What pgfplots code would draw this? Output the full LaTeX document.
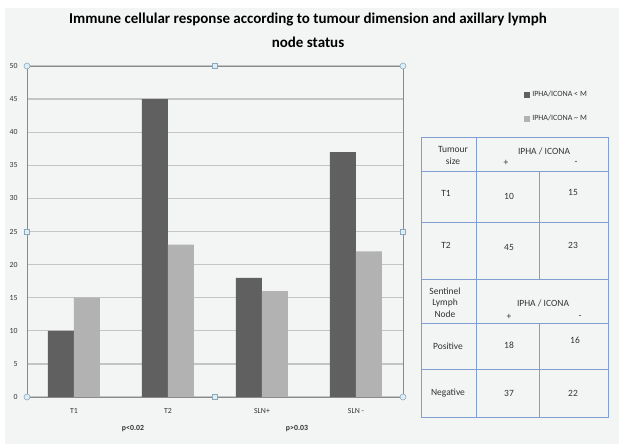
\documentclass[border=0pt]{standalone}
\usepackage{fontspec}
\setmainfont{Carlito}
\usepackage{pgfplots}
\pgfplotsset{compat=1.18}
\definecolor{bg}{HTML}{F3F5F5}
\definecolor{darkbar}{HTML}{606060}
\definecolor{lightbar}{HTML}{B2B2B2}
\definecolor{gridc}{HTML}{C4C4C4}
\definecolor{axc}{HTML}{8A8A8A}
\definecolor{tabc}{HTML}{7F9FD2}
\definecolor{txt}{HTML}{333333}
\definecolor{hfill}{HTML}{DCEFF8}
\definecolor{hdraw}{HTML}{8FA8B8}
\tikzset{hnd/.style={draw=hdraw, fill=hfill, inner sep=0pt, line width=0.6pt}}
\begin{document}
\begin{tikzpicture}[x=1pt,y=1pt]
\fill[white] (0,0) rectangle (619,444);
\fill[bg] (5,0) rectangle (619,436);
\node[font=\bfseries\fontsize{15}{18}\selectfont] at (308,424) {Immune cellular response according to tumour dimension and axillary lymph};
\node[font=\bfseries\fontsize{15}{18}\selectfont] at (308,402) {node status};
\begin{axis}[
  at={(27pt,47pt)}, anchor=south west,
  scale only axis, width=376pt, height=331pt,
  xmin=-0.5, xmax=3.5, ymin=0, ymax=50,
  ybar=0pt, bar width=26pt,
  xtick={0,1,2,3}, xticklabels={T1,T2,SLN+,SLN -},
  ytick={0,5,...,50},
  major tick length=0pt,
  ymajorgrids, grid style={gridc, line width=1.3pt},
  axis line style={axc, line width=0.9pt},
  tick label style={font=\fontsize{7.8}{9}\selectfont, text=txt},
  /pgf/number format/assume math mode=true,
  xticklabel style={yshift=-8pt},
  yticklabel style={xshift=-6pt},
  clip=false,
  legend style={at={(1.322,0.93)}, anchor=north west, draw=none, fill=none,
    font=\fontsize{8}{10}\selectfont, text=txt, row sep=13pt, inner sep=0pt},
  legend cell align=left,
]
\addplot[fill=darkbar, draw=none, legend image code/.code={\fill[darkbar] (0pt,-3pt) rectangle (6pt,3pt);}] coordinates {(0,10) (1,45) (2,18) (3,37)};
\addplot[fill=lightbar, draw=none, legend image code/.code={\fill[lightbar] (0pt,-3pt) rectangle (6pt,3pt);}] coordinates {(0,15) (1,23) (2,16) (3,22)};
\legend{IPHA/ICONA < M, IPHA/ICONA \textasciitilde{} M}
\node[hnd, circle, minimum size=6pt] at (rel axis cs:0,0) {};
\node[hnd, circle, minimum size=6pt] at (rel axis cs:1,0) {};
\node[hnd, circle, minimum size=6pt] at (rel axis cs:0,1) {};
\node[hnd, circle, minimum size=6pt] at (rel axis cs:1,1) {};
\node[hnd, rectangle, minimum size=5pt] at (rel axis cs:0.5,0) {};
\node[hnd, rectangle, minimum size=5pt] at (rel axis cs:0.5,1) {};
\node[hnd, rectangle, minimum size=5pt] at (rel axis cs:0,0.5) {};
\node[hnd, rectangle, minimum size=5pt] at (rel axis cs:1,0.5) {};
\end{axis}
\node[font=\bfseries\fontsize{7.8}{9}\selectfont, text=txt] at (133,15) {p<0.02};
\node[font=\bfseries\fontsize{7.8}{9}\selectfont, text=txt] at (297,15) {p>0.03};
% table
\begin{scope}[tabc, line width=0.9pt]
\draw (421,307) rectangle (608,27);
\draw (476,307) -- (476,27);
\draw (421,273) -- (608,273);
\draw (421,222) -- (608,222);
\draw (421,165) -- (608,165);
\draw (421,121) -- (608,121);
\draw (421,75) -- (608,75);
\draw (539,273) -- (539,165);
\draw (539,121) -- (539,27);
\end{scope}
\begin{scope}[every node/.style={font=\fontsize{9.5}{11}\selectfont, text=txt, inner sep=0pt}]
\node at (453,295) {Tumour};
\node at (453,283) {size};
\node at (544,293) {IPHA\ /\ ICONA};
\node at (506,281) {+};
\node at (576,281) {-};
\node at (446,251) {T1};
\node at (509,248) {10};
\node at (573,252) {15};
\node at (446,199) {T2};
\node at (509,197) {45};
\node at (573,199) {23};
\node at (445,153) {Sentinel};
\node at (445,141) {Lymph};
\node at (445,130) {Node};
\node at (543,141) {IPHA\ /\ ICONA};
\node at (509,127) {+};
\node at (580,127) {-};
\node at (448,98) {Positive};
\node at (509,99) {18};
\node at (575,104) {16};
\node at (448,51) {Negative};
\node at (509,51) {37};
\node at (573,51) {22};
\end{scope}
\end{tikzpicture}
\end{document}
